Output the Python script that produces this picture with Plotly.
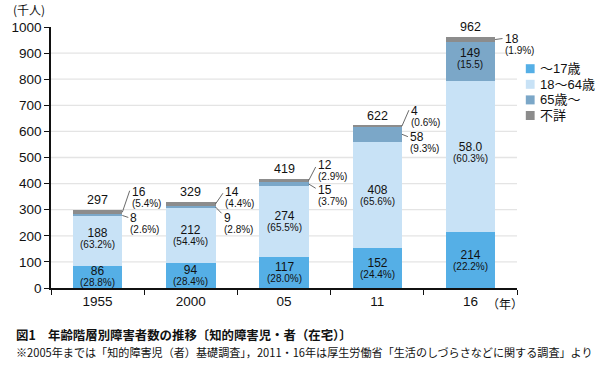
import plotly.graph_objects as go

# ---------------- data ----------------
categories = ["1955", "2000", "05", "11", "16"]
series_names = ["～17歳", "18～64歳", "65歳～", "不詳"]
age_0_17 = [86, 94, 117, 152, 214]
age_18_64 = [188, 212, 274, 408, 580]
age_65_plus = [8, 9, 15, 58, 149]
age_unknown = [16, 14, 12, 4, 18]
totals = [297, 329, 419, 622, 962]

# printed labels (as in the original figure)
label_0_17 = ["86", "94", "117", "152", "214"]
label_18_64 = ["188", "212", "274", "408", "58.0"]
label_65_plus = ["8", "9", "15", "58", "149"]
label_unknown = ["16", "14", "12", "4", "18"]
pct_0_17 = ["(28.8%)", "(28.4%)", "(28.0%)", "(24.4%)", "(22.2%)"]
pct_18_64 = ["(63.2%)", "(54.4%)", "(65.5%)", "(65.6%)", "(60.3%)"]
pct_65_plus = ["(2.6%)", "(2.8%)", "(3.7%)", "(9.3%)", "(15.5)"]
pct_unknown = ["(5.4%)", "(4.4%)", "(2.9%)", "(0.6%)", "(1.9%)"]

y_ticks = [0, 100, 200, 300, 400, 500, 600, 700, 800, 900, 1000]

title_text = "図1　年齢階層別障害者数の推移〔知的障害児・者（在宅）〕"
note_text = "※2005年までは「知的障害児（者）基礎調査」，2011・16年は厚生労働省「生活のしづらさなどに関する調査」より"

# ---------------- style / layout ----------------
COLORS = ["#55AFE6", "#C8E2F6", "#7BA7C8", "#8C8C8C"]
FONT = "Liberation Sans, Arial, Noto Sans CJK JP, sans-serif"
JFONT = "Noto Sans CJK JP, sans-serif"
BARGAP = 0.47

series_values = [age_0_17, age_18_64, age_65_plus, age_unknown]
series_labels = [label_0_17, label_18_64, label_65_plus, label_unknown]
series_pcts = [pct_0_17, pct_18_64, pct_65_plus, pct_unknown]

# outside labels: (bar, series, line dx px, line dy px, number dy px)
OUT_LABELS = [
    (0, 3, 7.4, 21.6, 20.6),
    (0, 2, 6.0, -2.0, -1.9),
    (1, 3, 7.4, 10.7, 12.3),
    (1, 2, 6.0, -6.3, -10.3),
    (2, 3, 7.0, 13.5, 16.2),
    (2, 2, 7.0, -4.3, -6.0),
    (3, 3, 7.0, 16.0, 15.5),
    (3, 2, 6.0, -2.4, -2.4),
    (4, 3, 7.4, 1.0, 1.0),
]
INSIDE_SHIFT_DEFAULT = 0.5
INSIDE_SHIFT = {(0, 1): 3.5, (4, 1): 4.5, (4, 2): 3.0}
LINE_FONT = 8.4  # base size -> ~11px line spacing between value and share


def two_line(num, pct):
    return ("<span style='font-size:12px'>%s</span><br>"
            "<span style='font-size:10px'>%s</span>" % (num, pct))


fig = go.Figure()
for name, vals, col in zip(series_names, series_values, COLORS):
    fig.add_trace(go.Bar(
        x=categories, y=vals, name=name,
        marker=dict(color=col, line=dict(width=0)),
        showlegend=False, hoverinfo="skip",
    ))

annotations = []
shapes = []

# gridlines
for t in y_ticks[1:-1]:
    shapes.append(dict(type="line", xref="paper", yref="y", x0=0, x1=1, y0=t, y1=t,
                       line=dict(color="#E4E4E4", width=1.3), layer="below"))

half = (1 - BARGAP) / 2
out_keys = {(b, s) for b, s, *_ in OUT_LABELS}

for b in range(len(categories)):
    base = 0
    for s in range(len(series_values)):
        v = series_values[s][b]
        mid = base + v / 2
        base += v
        if (b, s) in out_keys:
            continue
        annotations.append(dict(x=b, y=mid, xref="x", yref="y",
                                text=two_line(series_labels[s][b], series_pcts[s][b]),
                                showarrow=False, yshift=INSIDE_SHIFT.get((b, s), INSIDE_SHIFT_DEFAULT),
                                borderpad=0,
                                font=dict(family=FONT, size=LINE_FONT, color="#111")))
    # total
    annotations.append(dict(x=b, y=totals[b], xref="x", yref="y", text=str(totals[b]),
                            showarrow=False, yshift=10, borderpad=0,
                            font=dict(family=FONT, size=12.5, color="#111")))

for b, s, dx, dy, ndy in OUT_LABELS:
    vals = series_values
    base = sum(vals[k][b] for k in range(s))
    mid = base + vals[s][b] / 2
    edge = b + half
    shapes.append(dict(type="line", xref="x", yref="y", xsizemode="pixel", ysizemode="pixel",
                       xanchor=edge, yanchor=mid, x0=0, x1=dx, y0=0, y1=dy,
                       line=dict(color="#444", width=0.8)))
    annotations.append(dict(x=edge, y=mid, xref="x", yref="y",
                            text=two_line(series_labels[s][b], series_pcts[s][b]),
                            showarrow=False, xanchor="left", align="left", borderpad=0,
                            xshift=dx + 1.0, yshift=ndy - 5.5,
                            font=dict(family=FONT, size=LINE_FONT, color="#111")))

# custom legend
L, R, T, B = 41, 78, 27, 86
W, H = 595 - L - R, 374 - T - B


def px_x(px):
    return (px - L) / W


def px_y(py):
    return (374 - B - py) / H


LEG_STEP = 15.6
for i, col in enumerate(COLORS):
    cy = 68.7 + i * LEG_STEP
    shapes.append(dict(type="rect", xref="paper", yref="paper",
                       x0=px_x(526), x1=px_x(535), y0=px_y(cy + 4.5), y1=px_y(cy - 4.5),
                       fillcolor=col, line=dict(width=0)))
    annotations.append(dict(x=px_x(539), y=px_y(cy), xref="paper", yref="paper", text=series_names[i],
                            showarrow=False, xanchor="left", yanchor="middle", borderpad=0,
                            font=dict(family=FONT, size=13, color="#111")))

# axis units / titles
annotations.append(dict(x=px_x(0), y=px_y(10), xref="paper", yref="paper", text="(千人)",
                        showarrow=False, xanchor="left", yanchor="middle",
                        font=dict(family=JFONT, size=12, color="#111")))
annotations.append(dict(x=px_x(484), y=px_y(303), xref="paper", yref="paper", text="（年）",
                        showarrow=False, xanchor="left", yanchor="middle",
                        font=dict(family=JFONT, size=12, color="#111")))
annotations.append(dict(x=px_x(3), y=px_y(335), xref="paper", yref="paper",
                        text="<b>" + title_text + "</b>",
                        showarrow=False, xanchor="left", yanchor="middle",
                        font=dict(family=JFONT, size=12.4, color="#111")))
annotations.append(dict(x=px_x(3), y=px_y(352), xref="paper", yref="paper", text=note_text,
                        showarrow=False, xanchor="left", yanchor="middle",
                        font=dict(family=JFONT, size=11.1, color="#111")))

fig.update_layout(
    width=595, height=374,
    margin=dict(l=L, r=R, t=T, b=B, pad=0),
    paper_bgcolor="white", plot_bgcolor="white",
    barmode="stack", bargap=BARGAP,
    shapes=shapes, annotations=annotations,
    font=dict(family=FONT, size=13, color="#111"),
    xaxis=dict(type="category", range=[-0.5, 4.5], tickson="boundaries",
               ticks="outside", ticklen=5, tickwidth=1.3, tickcolor="#111",
               showline=True, linecolor="#111", linewidth=1.5,
               showgrid=False, zeroline=False,
               tickfont=dict(family=FONT, size=13.5, color="#111")),
    yaxis=dict(range=[0, 1000], tickvals=y_ticks,
               ticks="outside", ticklen=5, tickwidth=1.3, tickcolor="#111",
               showline=True, linecolor="#111", linewidth=1.5,
               showgrid=False, zeroline=False,
               tickfont=dict(family=FONT, size=13.5, color="#111")),
)

fig.write_html("out.html", config={"displayModeBar": False},
               post_script="document.body.style.margin='0';document.body.style.padding='0';")
